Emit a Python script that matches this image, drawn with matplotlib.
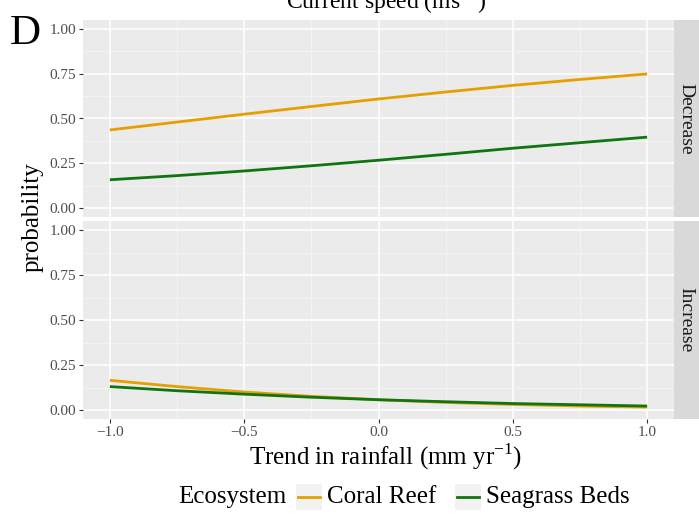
import numpy as np
import matplotlib
matplotlib.use("Agg")
import matplotlib.pyplot as plt
from matplotlib.patches import Rectangle
from matplotlib.lines import Line2D

plt.rcParams["font.family"] = ["Liberation Serif", "DejaVu Serif"]

# rainfall trend grid and predicted probabilities per facet
rainfall = [-1.0, -0.75, -0.5, -0.25, 0.0, 0.25, 0.5, 0.75, 1.0]
coral_decrease = [0.436, 0.480, 0.524, 0.567, 0.609, 0.648, 0.685, 0.718, 0.749]
seagrass_decrease = [0.158, 0.181, 0.207, 0.236, 0.267, 0.300, 0.334, 0.365, 0.396]
coral_increase = [0.165, 0.130, 0.100, 0.076, 0.057, 0.042, 0.031, 0.022, 0.016]
seagrass_increase = [0.130, 0.107, 0.088, 0.071, 0.057, 0.046, 0.036, 0.029, 0.022]

facets = ["Decrease", "Increase"]
ecosystems = ["Coral Reef", "Seagrass Beds"]
series = {
    "Decrease": {"Coral Reef": coral_decrease, "Seagrass Beds": seagrass_decrease},
    "Increase": {"Coral Reef": coral_increase, "Seagrass Beds": seagrass_increase},
}
colors = {"Coral Reef": "#E69F00", "Seagrass Beds": "#107510"}
x_ticks = [-1.0, -0.5, 0.0, 0.5, 1.0]
y_ticks = [0.0, 0.25, 0.5, 0.75, 1.0]

W, H = 699, 517
fig = plt.figure(figsize=(W / 100, H / 100), dpi=100)

def box(x0, y0, x1, y1):
    return [x0 / W, 1 - y1 / H, (x1 - x0) / W, (y1 - y0) / H]

panel_rows = [(20, 217), (221, 419)]
tick_col = "#4D4D4D"

for i, (facet, (top, bot)) in enumerate(zip(facets, panel_rows)):
    ax = fig.add_axes(box(83, top, 674, bot))
    ax.set_facecolor("#EBEBEB")
    for s in ax.spines.values():
        s.set_visible(False)
    ax.set_xlim(-1.1, 1.1)
    ax.set_ylim(-0.05, 1.05)
    ax.set_xticks(x_ticks)
    ax.set_yticks(y_ticks)
    ax.set_xticks([-0.75, -0.25, 0.25, 0.75], minor=True)
    ax.set_yticks([0.125, 0.375, 0.625, 0.875], minor=True)
    ax.grid(True, which="major", color="white", lw=1.1)
    ax.grid(True, which="minor", color="#F5F5F5", lw=0.6)
    ax.set_axisbelow(True)
    ax.set_yticklabels([f"{v:.2f}" for v in y_ticks], fontsize=11, color=tick_col)
    ax.tick_params(which="minor", length=0)
    ax.tick_params(which="major", length=3, width=0.8, color="#333333", pad=2)
    if i == 0:
        ax.set_xticklabels([])
        ax.tick_params(axis="x", which="major", length=0)
    else:
        ax.set_xticklabels([f"{v:.1f}".replace("-", "\u2212") for v in x_ticks],
                           fontsize=11, color=tick_col)
    for name in ecosystems:
        ax.plot(rainfall, series[facet][name], color=colors[name], lw=2.0,
                solid_capstyle="butt")

    # facet strip on the right
    sx = fig.add_axes(box(674, top, 699, bot))
    sx.set_facecolor("#D9D9D9")
    sx.set_xticks([]); sx.set_yticks([])
    for s in sx.spines.values():
        s.set_visible(False)
    sx.text(0.48, 0.5, facet, rotation=-90, ha="center", va="center",
            fontsize=14, color="#1A1A1A", transform=sx.transAxes)

fig.text(386 / W, 1 - 2 / H, "Current speed (ms$^{\\mathregular{-1}}$)", ha="center",
         va="center", fontsize=17)
fig.text(10 / W, 1 - 34 / H, "D", ha="left", va="center", fontsize=31)
fig.text(33 / W, 1 - 217 / H, "probability", rotation=90, ha="center", va="center",
         fontsize=18)
fig.text(386 / W, 1 - 457 / H, "Trend in rainfall (mm yr$^{\\mathregular{-1}}$)",
         ha="center", va="center", fontsize=18)

# legend laid out in a row below the panels
leg_y = 1 - 497 / H
fig.text(178 / W, leg_y, "Ecosystem", ha="left", va="center", fontsize=18)
key_x = {"Coral Reef": 296, "Seagrass Beds": 455}
for name in ecosystems:
    x0 = key_x[name]
    fig.add_artist(Rectangle((x0 / W, 1 - 510 / H), 26 / W, 26 / H,
                             transform=fig.transFigure, facecolor="#F2F2F2",
                             edgecolor="none"))
    fig.add_artist(Line2D([(x0 + 2) / W, (x0 + 24) / W], [leg_y, leg_y],
                          transform=fig.transFigure, color=colors[name], lw=2.0))
    fig.text((x0 + 31) / W, leg_y, name, ha="left", va="center", fontsize=18)

fig.savefig("out.png", dpi=100)
